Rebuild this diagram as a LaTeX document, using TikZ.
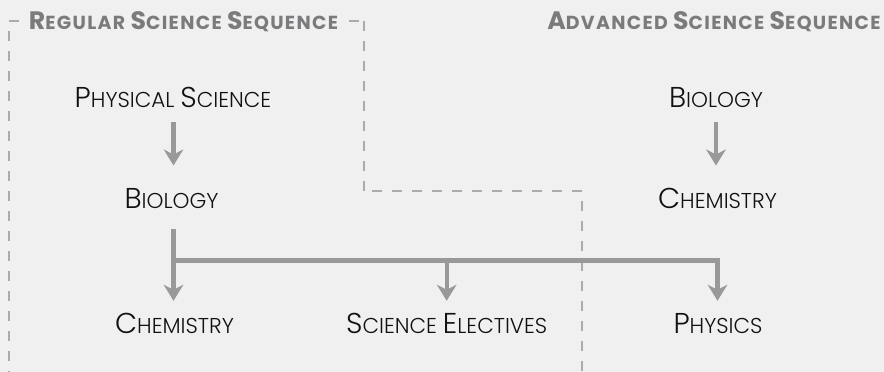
\documentclass[tikz,border=0pt]{standalone}
\usepackage{fontspec}
\usetikzlibrary{arrows.meta}
\newfontfamily\labfont{Poppins Light}
\newfontfamily\ttlfont{Poppins Bold}[LetterSpace=7]
\definecolor{bg}{HTML}{F0F0F0}
\definecolor{dashc}{HTML}{ABABAB}
\definecolor{arrc}{HTML}{999999}
\definecolor{ttlc}{HTML}{7B7B7D}
\definecolor{labc}{HTML}{111111}
\newcommand\LS[2]{{\fontsize{28.7}{28.7}\selectfont #1}{\fontsize{21.5}{21.5}\selectfont #2}}
\newcommand\TS[2]{{\fontsize{25.2}{25.2}\selectfont #1}{\fontsize{18.9}{18.9}\selectfont #2}}
\tikzset{
  lab/.style={font=\labfont\fontsize{21.5}{21.5}\selectfont, text=labc, inner sep=0pt, text height=20pt, text depth=0pt, anchor=base},
  ttl/.style={font=\ttlfont\fontsize{18.9}{18.9}\selectfont, text=ttlc, inner xsep=6pt, inner ysep=2pt, anchor=base, fill=bg},
  conn/.style={draw=arrc, line width=4.4pt},
  arr/.style={conn, -{Stealth[length=16pt,width=19.5pt,inset=5pt]}},
  bord/.style={draw=dashc, line width=1.8pt, dash pattern=on 10pt off 10pt},
}
\begin{document}
\begin{tikzpicture}[x=1pt,y=-1pt]
\fill[bg] (0,0) rectangle (884,372);
\useasboundingbox (0,0) rectangle (884,372);
% region border
\coordinate (c1) at (9,21);
\coordinate (c2) at (364,21);
\coordinate (c3) at (364,191);
\coordinate (c4) at (582,191);
\coordinate (c5) at (9,372);
\coordinate (c6) at (582,372);
\draw[bord, dash phase=10pt] (c1) -- (c5);
\draw[bord] (c1) -- (c2);
\draw[bord] (c3) -- (c2);
\draw[bord] (c4) -- (c3);
\draw[bord, dash phase=10pt] (c4) -- (c6);
% titles
\node[ttl] (treg) at (183.5,29.3) {\TS{R}{EGULAR}\ \TS{S}{CIENCE}\ \TS{S}{EQUENCE}};
\node[ttl, fill=none] (tadv) at (714,29.3) {\TS{A}{DVANCED}\ \TS{S}{CIENCE}\ \TS{S}{EQUENCE}};
% labels
\node[lab] (ps) at (173,107) {\LS{P}{HYSICAL}\ \LS{S}{CIENCE}};
\node[lab] (bioL) at (171.5,208.5) {\LS{B}{IOLOGY}};
\node[lab] (chemL) at (174.5,333.5) {\LS{C}{HEMISTRY}};
\node[lab] (sciE) at (446.7,333.5) {\LS{S}{CIENCE}\ \LS{E}{LECTIVES}};
\node[lab] (phys) at (718,333.5) {\LS{P}{HYSICS}};
\node[lab] (bioR) at (716,107) {\LS{B}{IOLOGY}};
\node[lab] (chemR) at (717.5,208.5) {\LS{C}{HEMISTRY}};
% column guides and junctions
\coordinate (xl) at (173.5,0);
\coordinate (xr) at (716,0);
\coordinate (j1) at (173.5,260.5);
\coordinate (j2) at (446.7,260.5);
% connectors
\draw[arr, shorten <=15pt, shorten >=22.8pt] (ps.south -| xl) -- (bioL.north -| xl);
\draw[arr, shorten <=15pt, shorten >=22.8pt] (bioR.south -| xr) -- (chemR.north -| xr);
\draw[arr, shorten <=20.5pt, shorten >=12.5pt] (bioL.south -| j1) -- (chemL.north -| j1);
\draw[arr, shorten >=12.5pt] (j2) -- (sciE.north -| j2);
\draw[arr, line join=miter, shorten >=12.5pt] (j1) -| ([xshift=-0.5pt]phys.north);
\end{tikzpicture}
\end{document}
